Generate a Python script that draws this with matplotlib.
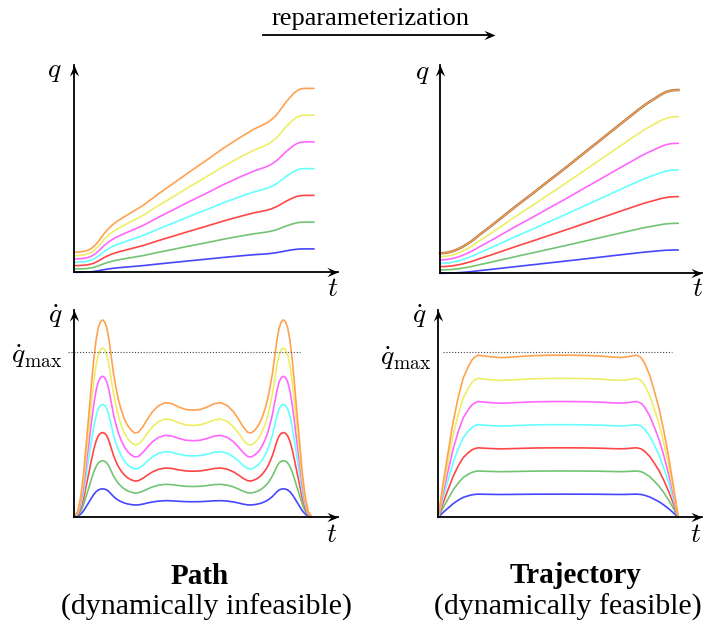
import numpy as np
import matplotlib
matplotlib.use("Agg")
import matplotlib.pyplot as plt
from matplotlib.path import Path

plt.rcParams['font.family'] = ['Liberation Serif', 'DejaVu Serif']
plt.rcParams['mathtext.fontset'] = 'cm'

# ---------------- data ----------------
colors = ['#4646ff', '#72c472', '#ff4646', '#66ffff', '#ff66ff', '#eeee66', '#ffa24f']
scales = [1, 2, 3, 4, 5, 6, 7]                    # curve amplitude factors
q_start = [0.0, 0.5, 1.0, 1.5, 2.0, 2.5, 3.0]     # initial q of each curve
q_step = 3.5                                      # q travelled by the smallest curve

# path (top-left): normalized position vs normalized time
path_t = [0, 0.02, 0.04, 0.055, 0.07, 0.082, 0.094, 0.105, 0.115, 0.125, 0.136, 0.148,
          0.16, 0.172, 0.185, 0.21, 0.233, 0.26, 0.289, 0.35, 0.414, 0.48, 0.553, 0.62,
          0.692, 0.75, 0.78, 0.803, 0.82, 0.84, 0.858, 0.885, 0.914, 0.93, 0.945, 0.96,
          0.975, 1.0]
path_s = [0, 0.001, 0.005, 0.011, 0.022, 0.036, 0.055, 0.075, 0.095, 0.115, 0.134, 0.152,
          0.168, 0.182, 0.195, 0.218, 0.238, 0.262, 0.288, 0.355, 0.421, 0.49, 0.563, 0.633,
          0.701, 0.752, 0.772, 0.789, 0.806, 0.833, 0.866, 0.92, 0.968, 0.987, 0.997, 1.0,
          1.0, 1.0]

# trajectory (top-right)
traj_t = [0, 0.02, 0.04, 0.056, 0.07, 0.085, 0.1, 0.112, 0.126, 0.14, 0.154, 0.168, 0.19,
          0.21, 0.252, 0.32, 0.392, 0.46, 0.531, 0.6, 0.671, 0.74, 0.811, 0.83, 0.85,
          0.865, 0.881, 0.895, 0.91, 0.925, 0.937, 0.95, 0.965, 0.98, 1.0]
traj_s = [0, 0.002, 0.007, 0.014, 0.022, 0.032, 0.044, 0.055, 0.068, 0.083, 0.099, 0.116,
          0.14, 0.162, 0.211, 0.29, 0.370, 0.448, 0.528, 0.609, 0.691, 0.772, 0.854, 0.876,
          0.898, 0.914, 0.929, 0.942, 0.956, 0.97, 0.98, 0.989, 0.995, 0.999, 1.0]

# path velocity (bottom-left), normalized to its peak
pvel_t = [0, 0.015, 0.028, 0.04, 0.05, 0.062, 0.072, 0.082, 0.092, 0.101, 0.11, 0.119,
          0.128, 0.137, 0.146, 0.155, 0.165, 0.175, 0.185, 0.196, 0.21, 0.224, 0.24, 0.255,
          0.27, 0.29, 0.31, 0.33, 0.355, 0.383, 0.41, 0.44, 0.47, 0.5, 0.53, 0.56, 0.59,
          0.617, 0.645, 0.67, 0.69, 0.71, 0.73, 0.745, 0.76, 0.776, 0.79, 0.804, 0.815,
          0.825, 0.835, 0.845, 0.854, 0.863, 0.872, 0.881, 0.89, 0.899, 0.908, 0.918,
          0.928, 0.938, 0.95, 0.96, 0.972, 0.985, 1.0]
pvel_v = [0, 0.03, 0.11, 0.23, 0.37, 0.53, 0.67, 0.80, 0.90, 0.96, 0.99, 1.0,
          0.99, 0.96, 0.90, 0.82, 0.73, 0.66, 0.60, 0.55, 0.5, 0.465, 0.44, 0.426,
          0.43, 0.46, 0.5, 0.535, 0.565, 0.58, 0.575, 0.558, 0.545, 0.542, 0.545, 0.558, 0.575,
          0.58, 0.565, 0.535, 0.5, 0.46, 0.43, 0.426, 0.44, 0.465, 0.5, 0.55, 0.60,
          0.66, 0.73, 0.82, 0.90, 0.96, 0.99, 1.0, 0.99, 0.96, 0.90, 0.80,
          0.67, 0.53, 0.37, 0.23, 0.11, 0.03, 0]
path_peak = 0.171          # peak velocity of the smallest path curve (qdot_max = 1)

# trajectory velocity (bottom-right), normalized to its plateau
tvel_t = [0, 0.02, 0.042, 0.062, 0.083, 0.104, 0.125, 0.14, 0.153, 0.166, 0.19, 0.22,
          0.26, 0.3, 0.35, 0.41, 0.48, 0.55, 0.62, 0.68, 0.73, 0.76, 0.79, 0.81, 0.827,
          0.845, 0.86, 0.88, 0.9, 0.92, 0.94, 0.96, 0.98, 1.0]
tvel_v = [0, 0.21, 0.41, 0.59, 0.74, 0.86, 0.93, 0.97, 0.99, 1.0, 0.995, 0.99,
          0.985, 0.988, 0.993, 0.998, 1.0, 1.0, 0.998, 0.994, 0.988, 0.986, 0.99, 0.997, 1.0,
          0.985, 0.95, 0.88, 0.78, 0.67, 0.53, 0.37, 0.19, 0]
traj_plateau = 0.1403      # plateau velocity of the smallest trajectory curve
qdot_max = 1.0

# ---------------- figure ----------------
W, H = 704, 628
fig = plt.figure(figsize=(W / 100, H / 100), dpi=100)

def px_axes(x0, y0, x1, y1):
    """axes with origin at pixel (x0, y0) and arrow tips at (x1, y1); y from top"""
    return fig.add_axes([x0 / W, 1 - y0 / H, (x1 - x0) / W, (y0 - y1) / H])

stealth_r = Path([(0, 0), (-1, 0.42), (-0.62, 0), (-1, -0.42), (0, 0)],
                 [Path.MOVETO, Path.LINETO, Path.LINETO, Path.LINETO, Path.CLOSEPOLY])
stealth_u = Path([(0, 0), (-0.42, -1), (0, -0.62), (0.42, -1), (0, 0)],
                 [Path.MOVETO, Path.LINETO, Path.LINETO, Path.LINETO, Path.CLOSEPOLY])

def arrow_axes(ax):
    ax.set_axis_off()
    kw = dict(transform=ax.transAxes, clip_on=False, color='black', lw=1.3, zorder=5)
    ax.plot([0, 1], [0, 0], **kw)
    ax.plot([0, 0], [0, 1], **kw)
    ax.plot([1], [0], marker=stealth_r, ms=16, mew=0, color='black',
            transform=ax.transAxes, clip_on=False, zorder=6)
    ax.plot([0], [1], marker=stealth_u, ms=16, mew=0, color='black',
            transform=ax.transAxes, clip_on=False, zorder=6)

line_kw = dict(lw=1.2, clip_on=False, solid_joinstyle='round', solid_capstyle='round')

# top-left: path q(t)
ax1 = px_axes(74.3, 272.3, 338, 65)
ax1.set_xlim(0, 1.1)
ax1.set_ylim(0, 31.0)
for c, k, q0 in zip(colors, scales, q_start):
    ax1.plot(path_t, q0 + k * q_step * np.array(path_s), color=c, **line_kw)
arrow_axes(ax1)

# top-right: trajectory q(t)
ax2 = px_axes(440, 273.3, 701.7, 65)
ax2.set_xlim(0, 1.098)
ax2.set_ylim(0, 31.25)
for i, (c, k, q0) in enumerate(zip(colors, scales, q_start)):
    y = q0 + k * q_step * np.array(traj_s)
    if i == len(colors) - 1:
        ax2.plot(traj_t, y, color='#a8703e', lw=1.8, clip_on=False)
        ax2.plot(traj_t, y, color='#f2a25a', lw=0.9, clip_on=False)
    else:
        ax2.plot(traj_t, y, color=c, **line_kw)
arrow_axes(ax2)

# bottom-left: path velocity
ax3 = px_axes(74.3, 517, 338, 310)
ax3.set_xlim(0, 1.111)
ax3.set_ylim(0, 1.257)
for c, k in zip(colors, scales):
    ax3.plot(pvel_t, k * path_peak * np.array(pvel_v), color=c, **line_kw)
ax3.plot([-0.028, 0.951], [qdot_max, qdot_max], color='#444444', lw=0.8,
         ls=(0, (1, 1.6)), clip_on=False)
arrow_axes(ax3)

# bottom-right: trajectory velocity
ax4 = px_axes(438.3, 517.3, 701.7, 310)
ax4.set_xlim(0, 1.0975)
ax4.set_ylim(0, 1.256)
for c, k in zip(colors, scales):
    ax4.plot(tvel_t, k * traj_plateau * np.array(tvel_v), color=c, **line_kw)
ax4.plot([0.02, 0.972], [qdot_max, qdot_max], color='#444444', lw=0.8,
         ls=(0, (1, 1.6)), clip_on=False)
arrow_axes(ax4)

# ---------------- overlay text ----------------
ov = fig.add_axes([0, 0, 1, 1], zorder=10)
ov.set_xlim(0, W)
ov.set_ylim(H, 0)
ov.set_axis_off()
ov.patch.set_alpha(0)

mfs = 20
ov.text(54, 71, r'$q$', fontsize=mfs, ha='center', va='center')
ov.text(332.5, 290, r'$t$', fontsize=mfs, ha='center', va='center')
ov.text(422.5, 73, r'$q$', fontsize=mfs, ha='center', va='center')
ov.text(698, 290, r'$t$', fontsize=mfs, ha='center', va='center')
ov.text(55, 316, r'$\dot{q}$', fontsize=mfs, ha='center', va='center')
ov.text(331.5, 535, r'$t$', fontsize=mfs, ha='center', va='center')
ov.text(419, 316, r'$\dot{q}$', fontsize=mfs, ha='center', va='center')
ov.text(696, 535, r'$t$', fontsize=mfs, ha='center', va='center')
ov.text(63, 356, r'$\dot{q}_{\max}$', fontsize=mfs, ha='right', va='center')
ov.text(432, 358, r'$\dot{q}_{\max}$', fontsize=mfs, ha='right', va='center')

ov.text(371, 25, 'reparameterization', fontsize=19, ha='center', va='baseline')
ov.plot([263, 488], [35, 35], color='black', lw=1.3)
ov.plot([495], [35], marker=stealth_r, ms=16, mew=0, color='black')

ov.text(200, 584, 'Path', fontsize=21, fontweight='bold', ha='center', va='baseline')
ov.text(206.5, 615, '(dynamically infeasible)', fontsize=21.5, ha='center', va='baseline')
ov.text(575, 583, 'Trajectory', fontsize=21, fontweight='bold', ha='center', va='baseline')
ov.text(568.3, 615, '(dynamically feasible)', fontsize=21.5, ha='center', va='baseline')

fig.savefig('out.png', dpi=100)
